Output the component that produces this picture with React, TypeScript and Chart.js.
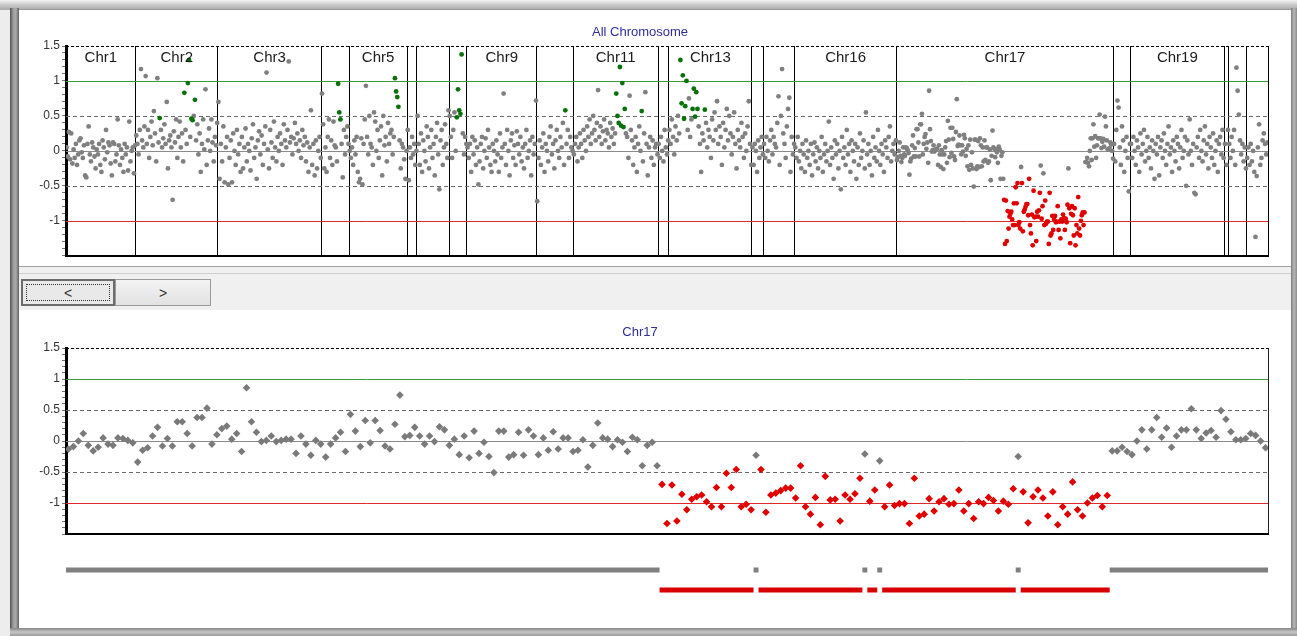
import React, { useEffect, useRef } from "react";
import { Chart, registerables } from "chart.js";

Chart.register(...registerables);

const FONT = '"Liberation Sans", Arial, sans-serif';

// ---------- data: chromosome names and relative spans (probe units) ----------
const chrNames = ["Chr1", "Chr2", "Chr3", "Chr4", "Chr5", "Chr6", "Chr7", "Chr8", "Chr9", "Chr10", "Chr11", "Chr12", "Chr13", "Chr14", "Chr15", "Chr16", "Chr17", "Chr18", "Chr19", "Chr20", "Chr21", "Chr22"];
const chrSpans = [78, 92, 116, 31, 65, 11, 36, 20, 78, 41, 95, 12, 93, 13, 35, 114, 243, 19, 105, 5, 20, 24];

// ---------- log2 ratio values per chromosome ----------
const chr1 = [0.05, -0.08, 0.27, -0.12, 0.25, -0.18, 0.02, -0.1, 0.1, -0.2, -0.05, 0.15, 0.18, -0.02, -0.1, 0.08, -0.35, -0.38, 0.1, 0.35, -0.05, -0.15, 0.12, 0.05, -0.08, -0.25, 0.02, -0.05, 0.1, -0.2, -0.3, 0.15, 0.05, -0.12, 0.3, -0.02, 0.12, 0.08, -0.18, -0.35, 0.12, 0.1, -0.15, -0.05, 0.45, 0.08, -0.2, 0.02, -0.1, -0.3, 0.1, -0.05, 0.05, -0.28, 0.42, -0.15, 0.0, 0.05, -0.32, 0.08];
const chr2 = [0.22, 0.1, -0.05, 0.3, 1.17, 0.15, 0.05, 0.35, 1.07, 0.1, 0.3, -0.1, 0.2, 0.42, 0.08, 0.57, 0.25, -0.15, 1.04, 0.12, 0.47, 0.3, 0.05, 0.18, 0.38, 0.1, 0.7, -0.25, 0.15, 0.22, 0.05, -0.7, 0.28, 0.12, 0.45, -0.1, 0.2, 0.42, 0.05, 0.25, -0.15, 0.83, 0.3, 0.1, 0.97, 1.3, 0.2, 0.46, 0.44, 0.5, 0.73, 0.15, 0.38, -0.05, 0.25, -0.3, 0.1, 0.45, 0.02, 0.88, -0.2, 0.15, 0.32, 0.0, 0.45, 0.12, -0.15, 0.2, 0.08, 0.4];
const chr3 = [0.7, -0.4, 0.1, -0.15, 0.35, -0.45, 0.05, 0.2, -0.48, -0.1, 0.15, -0.45, 0.25, 0.0, -0.2, 0.3, -0.05, 0.1, -0.3, 0.2, -0.25, 0.05, 0.32, -0.15, 0.1, 0.0, -0.28, 0.18, 0.38, -0.1, 0.05, -0.4, 0.15, 0.28, -0.05, 0.22, -0.2, 0.1, 0.35, 1.12, 0.02, -0.25, 0.3, 0.12, -0.1, 0.42, 0.05, -0.15, 0.2, 0.0, 0.25, 0.1, -0.2, 0.38, 0.15, 0.05, 0.3, 1.28, 0.12, 0.2, -0.05, 0.18, 0.4, 0.1, 0.25, 0.0, 0.15, -0.1, 0.3, 0.08, 0.2, -0.15, 0.12, -0.3, 0.05, 0.58, -0.2, 0.1, -0.35, 0.15, -0.25, 0.0, 0.2, -0.1];
const chr4 = [0.82, 0.38, -0.25, 0.05, -0.3, 0.2, 0.45, -0.1, 0.15, -0.2, 0.42, 0.08, 0.05, -0.15, 0.96, 0.55, 0.45, 0.1, -0.38, 0.3, -0.05, 0.2, 0.35, 0.1];
const chr5 = [0.0, -0.1, 0.05, -0.2, 0.15, -0.05, 0.2, -0.3, -0.45, -0.4, 0.18, -0.48, 0.1, 0.45, 0.93, 0.2, -0.05, 0.5, 0.1, 0.05, -0.2, 0.55, 0.42, 0.0, 0.3, -0.1, 0.15, 0.35, -0.35, 0.5, 0.08, 0.2, -0.15, 0.4, 0.1, 0.25, 0.3, -0.05, 0.2, 1.04, 0.85, 0.77, 0.63, 0.15, -0.25, 0.1, 0.05, -0.12, -0.4, 0.0];
const chr6 = [0.3, -0.42, 0.05, -0.1, 0.2, -0.05, 0.1, -0.2, 0.0];
const chr7 = [0.5, 0.1, -0.2, 0.25, -0.3, 0.15, 0.0, -0.15, 0.35, 0.2, -0.25, 0.05, 0.3, -0.1, 0.1, -0.35, 0.2, 0.4, -0.05, -0.55, 0.15, 0.3, -0.2, 0.05, 0.38, 0.1, -0.1, 0.58];
const chr8 = [0.5, 0.2, -0.1, 0.3, 0.55, 0.0, 0.48, 0.88, 0.58, 0.53, 1.38, 0.25, -0.05, 0.2, 0.1];
const chr9 = [0.05, -0.1, 0.1, -0.3, 0.2, -0.05, 0.15, -0.2, 0.05, -0.48, -0.15, 0.1, 0.2, -0.25, 0.0, 0.18, -0.1, 0.3, 0.05, -0.2, -0.3, 0.1, 0.0, -0.15, 0.15, -0.05, -0.3, 0.25, -0.1, 0.05, 0.82, 0.1, -0.2, 0.3, 0.0, -0.35, 0.15, 0.25, -0.1, 0.08, -0.2, 0.28, 0.1, -0.05, 0.2, -0.15, 0.05, -0.25, 0.1, 0.3, -0.1, 0.0, 0.15, -0.35, 0.2, -0.05, 0.1, 0.72];
const chr10 = [-0.72, -0.1, 0.15, -0.2, 0.05, 0.25, -0.3, 0.1, 0.0, -0.15, 0.2, 0.35, -0.05, 0.1, -0.25, 0.15, 0.3, 0.0, -0.1, 0.2, 0.05, 0.4, -0.2, 0.58, 0.1, 0.3, -0.1, 0.2, 0.05, 0.0];
const chr11 = [-0.05, 0.1, 0.2, -0.15, 0.05, 0.25, 0.1, -0.1, 0.3, 0.15, 0.0, 0.35, 0.2, 0.45, 0.1, 0.25, 0.5, 0.3, 0.15, 0.4, 0.87, 0.2, 0.35, 0.1, 0.28, 0.45, 0.15, 0.3, 0.25, 0.05, 0.4, 0.2, 0.32, 0.1, 0.25, 0.82, 0.5, 0.4, 1.2, 0.36, 0.97, 0.34, 0.6, 0.25, 0.2, -0.1, 0.79, 0.3, 0.15, -0.2, 0.05, 0.2, -0.3, 0.1, 0.35, 0.0, 0.57, -0.15, 0.25, 0.84, 0.1, -0.35, 0.05, 0.2, -0.1, 0.15, -0.2, 0.05, 0.1, -0.05];
const chr12 = [0.1, -0.1, 0.2, 0.0, -0.15, 0.3, 0.05, -0.05, 0.15];
const chr13 = [0.3, 0.1, 0.45, 0.2, -0.05, 0.35, 0.15, 0.5, 0.25, 1.3, 0.68, 1.08, 0.46, 0.64, 1.0, 0.3, 0.75, 0.2, 0.45, 0.6, 0.89, 0.49, 0.84, 0.6, 0.35, 0.1, -0.3, 0.25, 0.15, 0.59, 0.4, 0.05, 0.3, 0.2, -0.1, 0.45, 0.15, 0.55, 0.3, 0.71, 0.1, 0.35, 0.2, -0.2, 0.4, 0.05, 0.3, 0.6, 0.15, 0.5, 0.25, -0.05, 0.2, 0.55, 0.1, -0.25, 0.3, 0.15, 0.05, 0.4, 0.2, -0.1, 0.25, 0.0, 0.35, 0.71, 0.1, -0.2];
const chr14 = [0.05, -0.2, 0.1, 0.0, -0.3, 0.15, -0.1, 0.05, 0.2, -0.05];
const chr15 = [0.1, -0.1, 0.2, 0.0, -0.15, 0.15, 0.3, -0.05, 0.2, 0.1, 0.05, 0.4, 0.78, -0.2, 0.5, 1.17, 0.25, 0.1, -0.1, 0.35, 0.6, 0.76, -0.3, 0.2, -0.05, 0.1];
const chr16 = [0.05, -0.1, 0.2, -0.15, 0.0, -0.25, 0.1, -0.05, -0.3, 0.15, -0.1, 0.0, -0.2, 0.1, -0.35, -0.05, 0.12, -0.15, 0.05, -0.25, 0.0, -0.1, 0.2, -0.3, -0.05, 0.1, -0.15, 0.0, 0.42, -0.2, 0.05, -0.1, -0.4, 0.15, -0.05, 0.1, -0.25, 0.0, -0.55, 0.2, -0.1, 0.05, -0.2, 0.3, -0.05, 0.1, -0.3, 0.15, 0.0, -0.15, 0.1, -0.4, 0.05, -0.2, 0.25, -0.1, 0.0, 0.15, -0.25, 0.55, -0.05, 0.1, -0.2, 0.0, -0.35, 0.2, -0.1, 0.05, -0.15, 0.3, 0.0, -0.2, 0.1, -0.05, -0.3, 0.15, 0.05, -0.1, 0.2, 0.35, -0.15, 0.0, 0.1, -0.05, 0.15];
const chr17 = [
  -0.13, -0.09, 0, 0.12, -0.07, -0.16, -0.1, 0.05, -0.05, -0.07, 0.05, 0.04, 0.01, -0.03, -0.34, -0.15, -0.11, 0.08, 0.22, -0.08, 0.04, -0.08, 0.31, 0.31, 0.12, -0.08, 0.38, 0.38, 0.53, -0.05, 0.1, 0.2, 0.24, 0.03, 0.12, -0.17, 0.86, 0.31, 0.14, -0.01, 0.01, 0.08, -0.01, 0.01, 0.03, 0.03, -0.2, 0.08, -0.05, -0.23, 0.01, -0.05, -0.26, -0.05, 0.05, 0.14, -0.17, 0.43, 0.16, -0.09, 0.33,
  -0.03, 0.33, 0.17, -0.08, -0.13, 0.27, 0.74, 0.07, 0.09, 0.22, 0.08, -0.05, 0.08, -0.01, 0.23, 0.18, -0.07, 0.03, -0.22, 0.08, -0.27, 0.16, -0.2, -0.02, -0.25, -0.51, 0.16, 0.16, -0.26, -0.22, 0.14, -0.23, 0.18, 0.08, -0.22, 0.05, -0.15, 0.15, -0.13, 0.05, 0.05, -0.17, -0.15, 0.02, -0.42, -0.07, 0.29, 0.05, 0.03, -0.09, 0.02, -0.02, -0.17, 0.06, 0.02, -0.4, -0.07, -0.02, -0.4,
  -0.7, -1.33, -0.71, -1.29, -0.86, -1.11, -0.94, -0.9, -0.87, -0.98, -1.06, -0.75, -1.06, -0.52, -0.75, -0.46, -1.06, -1.02, -1.11, -0.23, -0.46, -1.15, -0.87, -0.84, -0.8, -0.76, -0.76, -0.92, -0.4, -1.06, -1.18, -0.91, -1.35, -0.57, -0.95, -0.94, -1.29, -0.87, -0.94, -0.85, -0.6, -0.21, -0.97, -0.79, -0.32, -1.06, -0.71, -1.04, -1.01, -1.01, -1.33, -0.6, -1.21, -1.18, -0.93, -1.13, -0.98, -0.93, -1.02, -1.01, -0.79, -1.13,
  -1.01, -1.25, -0.98, -1.01, -0.91, -0.96, -1.13, -0.97, -1.02, -0.77, -0.25, -0.82, -1.32, -0.9, -0.79, -0.92, -1.21, -0.82, -1.35, -1.06, -1.18, -0.66, -1.11, -1.21, -1.0, -0.92, -0.88, -1.06, -0.88,
  -0.16, -0.16, -0.1, -0.17, -0.22, 0.0, 0.18, -0.13, 0.18, 0.38, 0.06, 0.21, -0.1, 0.08, 0.18, 0.18, 0.52, 0.18, 0.04, 0.13, 0.17, 0.06, 0.49, 0.35, 0.15, 0.02, 0.02, 0.04, 0.12, 0.09, 0.0, -0.11,
];
const chr18 = [0.1, -0.15, 0.3, 0.72, 0.62, 0.05, -0.2, 0.35, 0.15, -0.3, 0.0, 0.2, -0.1, -0.58, 0.1];
const chr19 = [0.1, -0.1, 0.2, 0.0, -0.2, 0.15, 0.05, -0.3, 0.25, -0.05, 0.1, 0.3, -0.15, 0.0, 0.2, -0.1, 0.05, -0.25, 0.15, 0.0, -0.4, 0.1, -0.05, 0.2, -0.35, 0.05, 0.15, -0.1, 0.25, 0.0, -0.2, 0.1, 0.35, -0.05, 0.05, -0.3, 0.15, 0.0, -0.15, 0.2, 0.1, -0.25, 0.05, 0.3, -0.1, 0.0, 0.2, -0.5, 0.15, -0.05, 0.45, 0.0, -0.2, 0.1, -0.6, -0.62, 0.05, 0.2, -0.1, 0.3, 0.0, -0.15, 0.15, 0.35, -0.05, 0.1, -0.25, 0.2, 0.05, -0.1, 0.25, -0.2, 0.0, 0.15, -0.3, 0.1, 0.2, -0.05, 0.3, -0.1];
const chr20 = [0.1, -0.2, 0.3];
const chr21 = [0.1, -0.1, 0.2, 0.0, 0.3, -0.2, 1.19, 0.86, 0.52, 0.15, -0.05, 0.1, -0.15, 0.05, -0.25];
const chr22 = [-0.1, 0.05, -0.2, 0.1, -0.15, 0.0, -0.3, -1.23, -0.36, 0.05, 0.38, -0.2, -0.1, 0.15, 0.25, 0.1, -0.05, 0.12];

// probes called as gain (green), by local index within the chromosome
const gain2 = [20, 41, 44, 45, 47, 48, 50];
const gain4 = [14, 15, 16];
const gain5 = [39, 40, 41, 42];
const gain8 = [6, 7, 8, 9, 10];
const gain10 = [23];
const gain11 = [35, 36, 37, 38, 39, 40, 41, 42, 56];
const gain13 = [9, 10, 11, 12, 13, 14, 19, 20, 21, 22, 23, 29];

// Chr17 segmentation: [first probe, last probe, state]
const chr17Segments: [number, number, string][] = [
  [0, 119, "normal"], [120, 138, "loss"], [139, 139, "normal"], [140, 160, "loss"], [161, 161, "normal"],
  [162, 163, "loss"], [164, 164, "normal"], [165, 191, "loss"], [192, 192, "normal"], [193, 210, "loss"], [211, 242, "normal"],
];
const trackLevels = ["normal", "loss"];

const yTickLabels = [1.5, 1, 0.5, 0, -0.5, -1];
const refLineValues = [1.5, 0.5, 0, -0.5, 1, -1];

// ---------- styling ----------
const GRAY = "#808080";
const GREEN = "#0a700a";
const RED = "#e00000";
const TITLE_COLOR = "#2f2f99";

const chrValues = [chr1, chr2, chr3, chr4, chr5, chr6, chr7, chr8, chr9, chr10, chr11, chr12, chr13, chr14, chr15, chr16, chr17, chr18, chr19, chr20, chr21, chr22];
const gainByChr: number[][] = [[], gain2, [], gain4, gain5, [], [], gain8, [], gain10, gain11, [], gain13, [], [], [], [], [], [], [], [], []];

function chr17State(i: number) {
  const s = chr17Segments.find((seg) => i >= seg[0] && i <= seg[1]);
  return s ? s[2] : "normal";
}

function refStyle(v: number) {
  if (v === 1.5) return { color: "#000000", dash: [3, 2] };
  if (v === 1) return { color: "#3a9a3a", dash: [] as number[] };
  if (v === -1) return { color: "#e02a2a", dash: [] as number[] };
  if (v === 0) return { color: "#8a8a8a", dash: [] as number[] };
  return { color: "#6a6a6a", dash: [4, 3] };
}

const refLinePlugin = {
  id: "refLines",
  beforeDatasetsDraw(chart: any) {
    const { ctx, chartArea, scales } = chart;
    const y = scales.y;
    ctx.save();
    refLineValues.forEach((v) => {
      const st = refStyle(v);
      const py = Math.round(y.getPixelForValue(v)) + 0.5;
      ctx.beginPath();
      ctx.setLineDash(st.dash);
      ctx.strokeStyle = st.color;
      ctx.lineWidth = 1;
      ctx.moveTo(chartArea.left, py);
      ctx.lineTo(chartArea.right, py);
      ctx.stroke();
    });
    ctx.restore();
  },
};

const chrLabelPlugin = {
  id: "chrLabels",
  afterDatasetsDraw(chart: any) {
    const { ctx, chartArea, scales } = chart;
    const x = scales.x;
    ctx.save();
    ctx.font = `15px ${FONT}`;
    ctx.fillStyle = "#1a1a1a";
    ctx.textAlign = "center";
    ctx.textBaseline = "middle";
    let start = 0;
    chrSpans.forEach((span, k) => {
      if (span >= 50) ctx.fillText(chrNames[k], x.getPixelForValue(start + span / 2), chartArea.top + 12);
      start += span;
    });
    ctx.restore();
  },
};

function tickLabel(v: number) {
  const r = Math.round(v * 10) / 10;
  return yTickLabels.includes(r) ? String(r) : "";
}

function yAxis() {
  return {
    type: "linear",
    min: -1.5,
    max: 1.5,
    afterFit: (s: any) => {
      s.width = 54;
    },
    ticks: {
      stepSize: 0.1,
      autoSkip: false,
      maxTicksLimit: 100,
      padding: 2,
      color: "#333333",
      font: { family: FONT, size: 12 },
      callback: (v: any) => tickLabel(Number(v)),
    },
    grid: { drawOnChartArea: false, drawTicks: true, tickLength: 4, tickColor: "#777777", tickWidth: 1 },
    border: { display: true, color: "#000000", width: 3 },
  };
}

function buildTop() {
  const gray: { x: number; y: number }[] = [];
  const green: { x: number; y: number }[] = [];
  const red: { x: number; y: number }[] = [];
  const bounds: number[] = [];
  let off = 0;
  chrValues.forEach((vals, k) => {
    const span = chrSpans[k];
    const step = span / vals.length;
    vals.forEach((v, i) => {
      const pt = { x: off + (i + 0.5) * step, y: v };
      if (k === 16) (chr17State(i) === "loss" ? red : gray).push(pt);
      else if (gainByChr[k].includes(i)) green.push(pt);
      else gray.push(pt);
    });
    off += span;
    bounds.push(off);
  });
  return { gray, green, red, bounds, total: off };
}

export default function App() {
  const topRef = useRef<HTMLCanvasElement>(null);
  const botRef = useRef<HTMLCanvasElement>(null);
  const trackRef = useRef<HTMLCanvasElement>(null);

  useEffect(() => {
    document.body.style.margin = "0";
    const top = buildTop();
    const topChart = new Chart(topRef.current as HTMLCanvasElement, {
      type: "scatter",
      data: {
        datasets: [
          { data: top.red, backgroundColor: RED, pointRadius: 2.4, pointBorderWidth: 0 },
          { data: top.green, backgroundColor: GREEN, pointRadius: 2.4, pointBorderWidth: 0 },
          { data: top.gray, backgroundColor: GRAY, pointRadius: 2.4, pointBorderWidth: 0 },
        ],
      },
      options: {
        animation: false,
        responsive: false,
        devicePixelRatio: 1,
        events: [],
        layout: { padding: { top: 6, right: 20, bottom: 8, left: 0 } },
        plugins: {
          legend: { display: false },
          tooltip: { enabled: false },
          title: {
            display: true,
            text: "All Chromosome",
            color: TITLE_COLOR,
            font: { family: FONT, size: 13, weight: "normal" },
            padding: { top: 9, bottom: 5.4 },
          },
        },
        scales: {
          x: {
            type: "linear",
            min: 0,
            max: top.total,
            afterBuildTicks: (s: any) => {
              s.ticks = top.bounds.map((v) => ({ value: v }));
            },
            afterFit: (s: any) => {
              s.height = 0;
            },
            ticks: { display: false },
            grid: { color: "#000000", lineWidth: 1, drawTicks: false },
            border: { display: true, color: "#000000", width: 2 },
          },
          y: yAxis(),
        },
      } as any,
      plugins: [refLinePlugin, chrLabelPlugin],
    });

    const gray17: { x: number; y: number }[] = [];
    const red17: { x: number; y: number }[] = [];
    chr17.forEach((v, i) => (chr17State(i) === "loss" ? red17 : gray17).push({ x: i, y: v }));
    const n = chr17.length;

    const botChart = new Chart(botRef.current as HTMLCanvasElement, {
      type: "scatter",
      data: {
        datasets: [
          { data: red17, backgroundColor: RED, pointStyle: "rectRot", pointRadius: 3.8, pointBorderWidth: 0 },
          { data: gray17, backgroundColor: "#7a7a7a", pointStyle: "rectRot", pointRadius: 3.8, pointBorderWidth: 0 },
        ],
      },
      options: {
        animation: false,
        responsive: false,
        devicePixelRatio: 1,
        events: [],
        layout: { padding: { top: 4, right: 20, bottom: 18, left: 0 } },
        plugins: {
          legend: { display: false },
          tooltip: { enabled: false },
          title: {
            display: true,
            text: "Chr17",
            color: TITLE_COLOR,
            font: { family: FONT, size: 13, weight: "normal" },
            padding: { top: 9, bottom: 7.4 },
          },
        },
        scales: {
          x: {
            type: "linear",
            min: -0.5,
            max: n - 0.5,
            afterBuildTicks: (s: any) => {
              s.ticks = [{ value: n - 0.5 }];
            },
            afterFit: (s: any) => {
              s.height = 0;
            },
            ticks: { display: false },
            grid: { color: "#222222", lineWidth: 1, drawTicks: false },
            border: { display: true, color: "#000000", width: 2 },
          },
          y: yAxis(),
        },
      } as any,
      plugins: [refLinePlugin],
    });

    const trackSets = chr17Segments.map(([s, e, state]) => ({
      type: "line",
      data: [
        { x: s - 0.5, y: state },
        { x: e + 0.5, y: state },
      ],
      borderColor: state === "loss" ? "#d80000" : "#808080",
      borderWidth: 5,
      pointRadius: 0,
      borderCapStyle: "butt",
    }));

    const trackChart = new Chart(trackRef.current as HTMLCanvasElement, {
      type: "line",
      data: { datasets: trackSets as any },
      options: {
        animation: false,
        responsive: false,
        devicePixelRatio: 1,
        events: [],
        layout: { padding: { top: 0, right: 20, bottom: 0, left: 54 } },
        plugins: { legend: { display: false }, tooltip: { enabled: false } },
        scales: {
          x: { type: "linear", min: -0.5, max: n - 0.5, display: false },
          y: { type: "category", labels: trackLevels, offset: true, display: false },
        },
      } as any,
    });

    return () => {
      topChart.destroy();
      botChart.destroy();
      trackChart.destroy();
    };
  }, []);

  const abs = (o: React.CSSProperties): React.CSSProperties => ({ position: "absolute", boxSizing: "border-box", ...o });

  return (
    <div style={{ position: "fixed", left: 0, top: 0, width: 1297, height: 636, overflow: "hidden", background: "#e4e4e4", fontFamily: FONT }}>
      {/* window frame */}
      <div style={abs({ left: 0, top: 0, width: 1297, height: 10, background: "linear-gradient(#f4f4f4, #c4c4c4 55%, #a8a8a8)" })} />
      <div style={abs({ left: 0, top: 10, width: 10, height: 626, background: "#ededed" })} />
      <div style={abs({ left: 10, top: 8, width: 9, height: 628, background: "linear-gradient(to right, #505050, #9c9c9c 35%, #ababab 65%, #606060)" })} />
      <div style={abs({ left: 1291, top: 8, width: 6, height: 628, background: "linear-gradient(to right, #7a7a7a, #b8b8b8 50%, #8c8c8c)" })} />
      <div style={abs({ left: 10, top: 628, width: 1287, height: 8, background: "linear-gradient(#858585, #c6c6c6 50%, #9a9a9a)" })} />

      {/* top panel */}
      <div style={abs({ left: 19, top: 9, width: 1272, height: 257, background: "#ffffff", borderTop: "1px solid #9a9a9a" })} />
      {/* toolbar */}
      <div style={abs({ left: 19, top: 266, width: 1272, height: 44, background: "#f0f0f0", borderTop: "1px solid #a0a0a0" })} />
      <div style={abs({ left: 19, top: 273, width: 1272, height: 1, background: "#cfcfcf" })} />
      <div
        style={abs({
          left: 21,
          top: 279,
          width: 94,
          height: 27,
          background: "#e9e9e9",
          border: "2px solid #6c6c6c",
          display: "flex",
          alignItems: "center",
          justifyContent: "center",
          fontSize: 14,
          color: "#333",
        })}
      >
        <div style={abs({ left: 3, top: 3, width: 84, height: 17, border: "1px dotted #333" })} />
        {"<"}
      </div>
      <div
        style={abs({
          left: 115,
          top: 279,
          width: 96,
          height: 27,
          background: "linear-gradient(#f3f3f3, #e2e2e2)",
          border: "1px solid #9a9a9a",
          display: "flex",
          alignItems: "center",
          justifyContent: "center",
          fontSize: 14,
          color: "#333",
        })}
      >
        {">"}
      </div>
      {/* bottom panel */}
      <div style={abs({ left: 19, top: 310, width: 1272, height: 318, background: "#ffffff" })} />

      {/* charts */}
      <canvas ref={topRef} width={1276} height={255} style={{ position: "absolute", left: 12, top: 10, width: 1276, height: 255 }} />
      <canvas ref={botRef} width={1276} height={240} style={{ position: "absolute", left: 12, top: 312, width: 1276, height: 240 }} />
      <canvas ref={trackRef} width={1276} height={40} style={{ position: "absolute", left: 12, top: 560, width: 1276, height: 40 }} />
    </div>
  );
}
